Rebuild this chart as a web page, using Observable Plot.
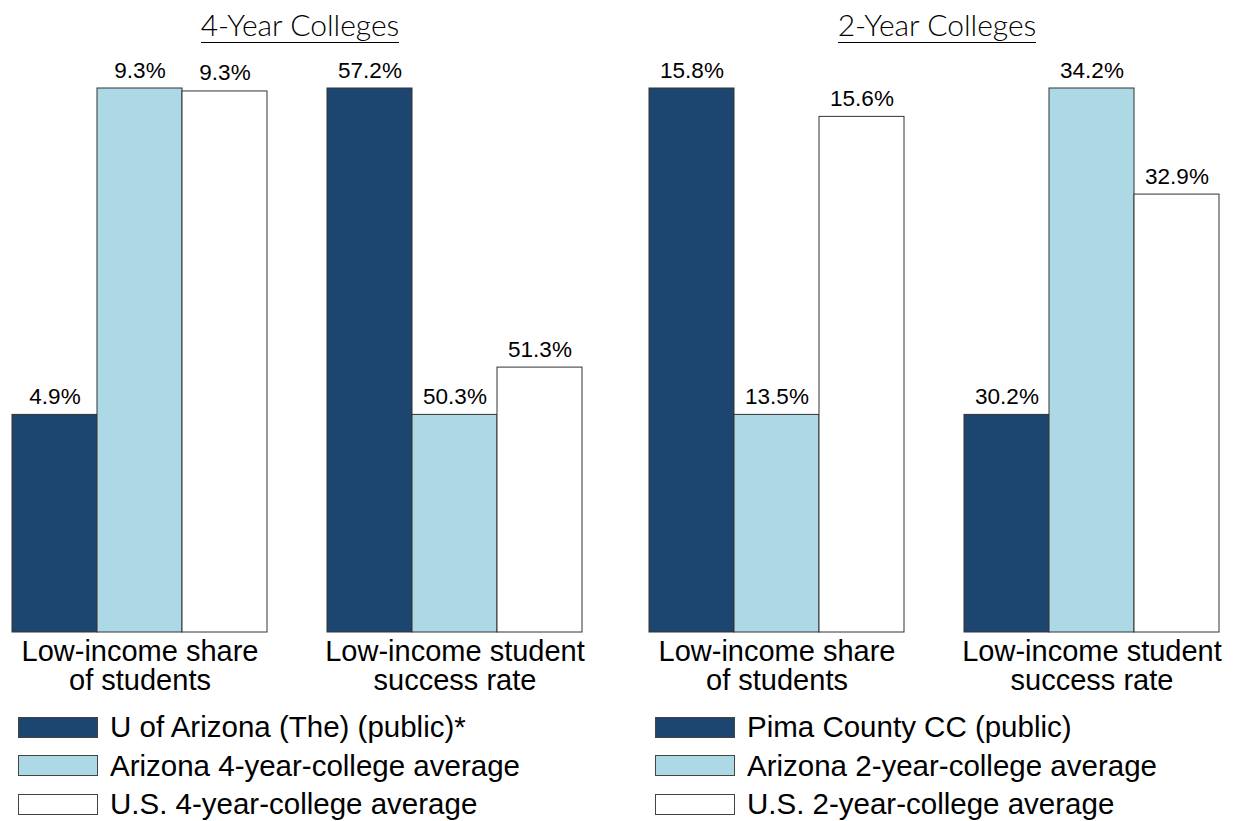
<!DOCTYPE html>
<html>
<head>
<meta charset="utf-8">
<script src="https://cdn.jsdelivr.net/npm/d3@7"></script>
<script src="https://cdn.jsdelivr.net/npm/@observablehq/plot@0.6"></script>
<style>
  html, body { margin: 0; padding: 0; background: #fff; }
  body { width: 1238px; height: 821px; position: relative; overflow: hidden;
         font-family: "Liberation Sans", Arial, sans-serif; color: #000; }
  .panel { position: absolute; top: 0; width: 619px; height: 821px; }
  .title { position: absolute; top: 9px; text-align: center; }
  .title span { display: inline-block; font-family: Lato, "Open Sans", sans-serif; font-weight: 300;
                font-size: 30px; line-height: 30px; padding-bottom: 3px; border-bottom: 1.5px solid #000; }
  .chart { position: absolute; top: 50px; left: 0; }
  .legend { position: absolute; top: 708px; }
  .legend .row { display: flex; align-items: center; height: 38.5px; }
  .legend .sw { width: 78px; height: 19px; border: 1px solid #444; margin-right: 12px; flex: none; }
  .legend .lab { font-size: 29.5px; line-height: 30px; white-space: nowrap; }
</style>
</head>
<body>
<script>
// ---- data ----
const groups = ["Low-income share\nof students", "Low-income student\nsuccess rate"];
const titles = ["4-Year Colleges", "2-Year Colleges"];
const series4 = ["U of Arizona (The) (public)*", "Arizona 4-year-college average", "U.S. 4-year-college average"];
const share4 = [4.9, 9.32, 9.28];
const success4 = [57.2, 50.3, 51.3];
const series2 = ["Pima County CC (public)", "Arizona 2-year-college average", "U.S. 2-year-college average"];
const share2 = [15.8, 13.5, 15.6];
const success2 = [30.2, 34.2, 32.9];
const colors = ["#1c466f", "#add8e6", "#ffffff"];

const panels = [
  {title: titles[0], series: series4, values: [share4, success4], left: 0, ml: 10, mr: 35},
  {title: titles[1], series: series2, values: [share2, success2], left: 619, ml: 28, mr: 17}
];

for (const p of panels) {
  // each group is drawn on its own relative scale: smallest value at 40% of the full height
  const rows = [];
  p.values.forEach((vals, gi) => {
    const lo = d3.min(vals), hi = d3.max(vals);
    vals.forEach((v, i) => rows.push({
      group: groups[gi], idx: i, series: p.series[i], value: v,
      norm: 0.4 + 0.6 * (v - lo) / (hi - lo)
    }));
  });

  const div = document.createElement("div");
  div.className = "panel";
  div.style.left = p.left + "px";
  document.body.appendChild(div);

  const t = document.createElement("div");
  t.className = "title";
  t.style.left = (p.ml + 3) + "px";
  t.style.width = (619 - p.ml - p.mr) + "px";
  t.innerHTML = `<span>${p.title}</span>`;
  div.appendChild(t);

  const chart = Plot.plot({
    width: 619, height: 657,
    marginLeft: p.ml, marginRight: p.mr, marginTop: 38, marginBottom: 75,
    style: {background: "transparent", fontFamily: '"Liberation Sans", Arial, sans-serif', overflow: "visible"},
    fx: {domain: groups, paddingInner: 0.1835, paddingOuter: 0, label: null},
    x: {domain: [0, 1, 2], padding: 0, axis: null},
    y: {domain: [0, 1], axis: null},
    color: {domain: p.series, range: colors},
    marks: [
      Plot.barY(rows, {fx: "group", x: "idx", y: "norm", fill: "series", stroke: "#333", strokeWidth: 1}),
      Plot.text(rows, {fx: "group", x: "idx", y: "norm", text: d => d.value.toFixed(1) + "%",
                       lineAnchor: "bottom", dy: -11, fontSize: 22.5, fill: "#000"}),
      Plot.axisFx({anchor: "bottom", tickSize: 0, tickPadding: 8, fontSize: 29, lineHeight: 1.0,
                   label: null, fill: "#000"})
    ]
  });
  chart.classList.add("chart");
  div.appendChild(chart);

  const lg = document.createElement("div");
  lg.className = "legend";
  lg.style.left = (p.ml + 8) + "px";
  p.series.forEach((s, i) => {
    const r = document.createElement("div");
    r.className = "row";
    r.innerHTML = `<div class="sw" style="background:${colors[i]}"></div><div class="lab">${s}</div>`;
    lg.appendChild(r);
  });
  div.appendChild(lg);
}
</script>
</body>
</html>
